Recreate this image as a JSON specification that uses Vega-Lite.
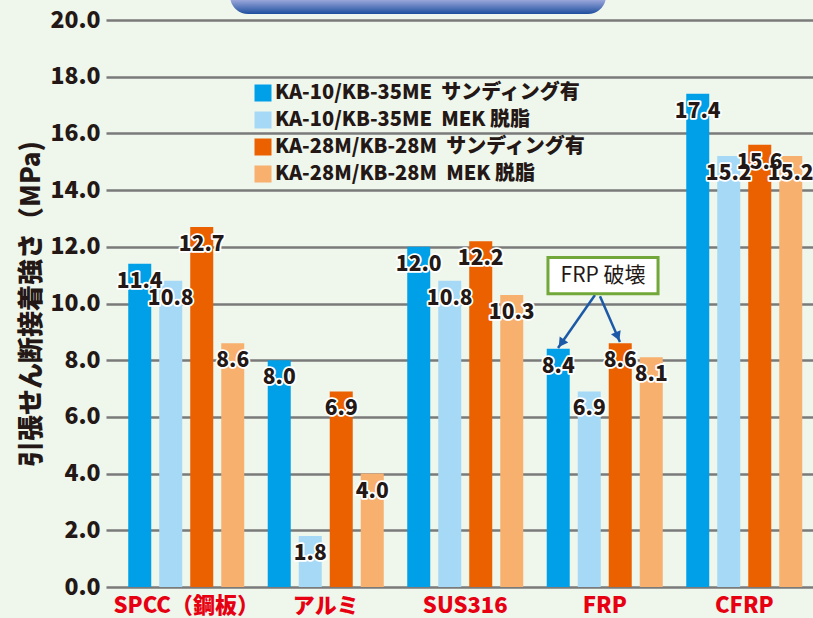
{
  "$schema": "https://vega.github.io/schema/vega-lite/v6.json",
  "autosize": {"type": "none"},
  "width": 708,
  "height": 567,
  "padding": {"left": 106, "top": 20, "right": 0, "bottom": 31},
  "background": "#eff6ec",
  "config": {"view": {"stroke": null}, "font": "Noto Sans CJK JP"},
  "datasets": {
    "bars": [
      {"material": "SPCC（鋼板）", "series": "KA-10/KB-35ME\u00a0\u00a0サンディング有", "value": 11.4},
      {"material": "SPCC（鋼板）", "series": "KA-10/KB-35ME\u00a0\u00a0MEK 脱脂", "value": 10.8},
      {"material": "SPCC（鋼板）", "series": "KA-28M/KB-28M\u00a0\u00a0サンディング有", "value": 12.7},
      {"material": "SPCC（鋼板）", "series": "KA-28M/KB-28M\u00a0\u00a0MEK 脱脂", "value": 8.6},
      {"material": "アルミ", "series": "KA-10/KB-35ME\u00a0\u00a0サンディング有", "value": 8.0},
      {"material": "アルミ", "series": "KA-10/KB-35ME\u00a0\u00a0MEK 脱脂", "value": 1.8},
      {"material": "アルミ", "series": "KA-28M/KB-28M\u00a0\u00a0サンディング有", "value": 6.9},
      {"material": "アルミ", "series": "KA-28M/KB-28M\u00a0\u00a0MEK 脱脂", "value": 4.0},
      {"material": "SUS316", "series": "KA-10/KB-35ME\u00a0\u00a0サンディング有", "value": 12.0},
      {"material": "SUS316", "series": "KA-10/KB-35ME\u00a0\u00a0MEK 脱脂", "value": 10.8},
      {"material": "SUS316", "series": "KA-28M/KB-28M\u00a0\u00a0サンディング有", "value": 12.2},
      {"material": "SUS316", "series": "KA-28M/KB-28M\u00a0\u00a0MEK 脱脂", "value": 10.3},
      {"material": "FRP", "series": "KA-10/KB-35ME\u00a0\u00a0サンディング有", "value": 8.4},
      {"material": "FRP", "series": "KA-10/KB-35ME\u00a0\u00a0MEK 脱脂", "value": 6.9},
      {"material": "FRP", "series": "KA-28M/KB-28M\u00a0\u00a0サンディング有", "value": 8.6},
      {"material": "FRP", "series": "KA-28M/KB-28M\u00a0\u00a0MEK 脱脂", "value": 8.1},
      {"material": "CFRP", "series": "KA-10/KB-35ME\u00a0\u00a0サンディング有", "value": 17.4},
      {"material": "CFRP", "series": "KA-10/KB-35ME\u00a0\u00a0MEK 脱脂", "value": 15.2},
      {"material": "CFRP", "series": "KA-28M/KB-28M\u00a0\u00a0サンディング有", "value": 15.6},
      {"material": "CFRP", "series": "KA-28M/KB-28M\u00a0\u00a0MEK 脱脂", "value": 15.2}
    ],
    "box": [{"x1": 3.093, "x2": 3.882, "y1": 10.34, "y2": 11.62, "xc": 3.488, "yc": 10.97, "label": "FRP 破壊"}],
    "arrows": [
      {"id": "a", "xs": 3.43, "ys": 10.3, "xe": 3.165, "ye": 8.43, "xh": 3.189, "yh": 8.6},
      {"id": "b", "xs": 3.466, "ys": 10.26, "xe": 3.609, "ye": 8.64, "xh": 3.592, "yh": 8.84}
    ],
    "banner": [{"x1": 0.814, "x2": 3.509, "y1": 20.21, "y2": 21.6}]
  },
  "resolve": {"scale": {"x": "independent"}},
  "layer": [
    {
      "data": {"name": "bars"},
      "encoding": {
        "x": {
          "field": "material", "type": "nominal",
          "sort": ["SPCC（鋼板）", "アルミ", "SUS316", "FRP", "CFRP"],
          "scale": {"paddingInner": 0, "paddingOuter": 0.0376, "align": 1},
          "axis": {"title": null, "labelAngle": 0, "labelColor": "#e60012", "labelFontSize": 22, "labelFontWeight": 900, "labelPadding": 8, "ticks": false, "domain": false}
        },
        "xOffset": {
          "field": "series", "type": "nominal",
          "sort": ["KA-10/KB-35ME\u00a0\u00a0サンディング有", "KA-10/KB-35ME\u00a0\u00a0MEK 脱脂", "KA-28M/KB-28M\u00a0\u00a0サンディング有", "KA-28M/KB-28M\u00a0\u00a0MEK 脱脂"],
          "scale": {"paddingInner": 0.258, "paddingOuter": 0.379}
        },
        "y": {
          "field": "value", "type": "quantitative",
          "scale": {"domain": [0, 20], "nice": false},
          "axis": {
            "title": "引張せん断接着強さ（MPa)",
            "values": [0, 2, 4, 6, 8, 10, 12, 14, 16, 18, 20],
            "format": ".1f",
            "labelFontSize": 23, "labelFontWeight": 900, "labelColor": "#231815", "labelPadding": 6,
            "ticks": false, "domain": false,
            "gridColor": "#7a7a7a", "gridWidth": 2.5, "gridOpacity": 1,
            "titleFontSize": 26, "titleFontWeight": 900, "titleColor": "#231815", "titlePadding": 5
          }
        }
      },
      "layer": [
        {
          "mark": {"type": "bar"},
          "encoding": {
            "color": {
              "field": "series", "type": "nominal",
              "sort": ["KA-10/KB-35ME\u00a0\u00a0サンディング有", "KA-10/KB-35ME\u00a0\u00a0MEK 脱脂", "KA-28M/KB-28M\u00a0\u00a0サンディング有", "KA-28M/KB-28M\u00a0\u00a0MEK 脱脂"],
              "scale": {"range": ["#00a0e9", "#a6d9f6", "#eb6100", "#f7b06e"]},
              "legend": {
                "orient": "none", "legendX": 147, "legendY": 63, "title": null,
                "symbolType": "square", "symbolSize": 289, "symbolStrokeWidth": 0, "symbolOpacity": 1,
                "labelFontSize": 20, "labelFontWeight": 900, "labelColor": "#231815",
                "rowPadding": 7, "labelOffset": 2, "padding": 0, "labelLimit": 400
              }
            }
          }
        },
        {
          "mark": {"type": "text", "baseline": "middle", "dy": 18, "fontSize": 21, "fontWeight": 900, "stroke": "white", "strokeWidth": 3.5, "strokeJoin": "round", "fill": "white"},
          "encoding": {"text": {"field": "value", "type": "quantitative", "format": ".1f"}}
        },
        {
          "mark": {"type": "text", "baseline": "middle", "dy": 18, "fontSize": 21, "fontWeight": 900, "fill": "#231815"},
          "encoding": {"text": {"field": "value", "type": "quantitative", "format": ".1f"}}
        }
      ]
    },
    {
      "layer": [
        {
          "data": {"name": "banner"},
          "mark": {
            "type": "rect", "cornerRadius": 18,
            "fill": {"gradient": "linear", "x1": 0, "y1": 0, "x2": 0, "y2": 1,
              "stops": [{"offset": 0, "color": "#cdd3f2"}, {"offset": 0.62, "color": "#a2acdf"}, {"offset": 1, "color": "#1d4f9d"}]}
          },
          "encoding": {
            "x": {"field": "x1", "type": "quantitative", "scale": {"domain": [-0.0753, 5.0], "nice": false, "zero": false}, "axis": null},
            "x2": {"field": "x2"},
            "y": {"field": "y1", "type": "quantitative", "scale": {"domain": [0, 20], "nice": false}},
            "y2": {"field": "y2"}
          }
        },
        {
          "data": {"name": "arrows"},
          "mark": {"type": "rule", "color": "#1c5aa8", "strokeWidth": 2.5},
          "encoding": {
            "x": {"field": "xs", "type": "quantitative", "scale": {"domain": [-0.0753, 5.0], "nice": false, "zero": false}, "axis": null},
            "x2": {"field": "xe"},
            "y": {"field": "ys", "type": "quantitative", "scale": {"domain": [0, 20], "nice": false}},
            "y2": {"field": "ye"}
          }
        },
        {
          "data": {"name": "arrows"},
          "transform": [{"filter": "datum.id === 'a'"}],
          "mark": {"type": "point", "shape": "triangle-up", "filled": true, "color": "#1c5aa8", "opacity": 1, "size": 110, "angle": 215},
          "encoding": {
            "x": {"field": "xh", "type": "quantitative", "scale": {"domain": [-0.0753, 5.0], "nice": false, "zero": false}, "axis": null},
            "y": {"field": "yh", "type": "quantitative", "scale": {"domain": [0, 20], "nice": false}}
          }
        },
        {
          "data": {"name": "arrows"},
          "transform": [{"filter": "datum.id === 'b'"}],
          "mark": {"type": "point", "shape": "triangle-up", "filled": true, "color": "#1c5aa8", "opacity": 1, "size": 110, "angle": 157},
          "encoding": {
            "x": {"field": "xh", "type": "quantitative", "scale": {"domain": [-0.0753, 5.0], "nice": false, "zero": false}, "axis": null},
            "y": {"field": "yh", "type": "quantitative", "scale": {"domain": [0, 20], "nice": false}}
          }
        },
        {
          "data": {"name": "box"},
          "mark": {"type": "rect", "fill": "white", "stroke": "#72a83a", "strokeWidth": 3},
          "encoding": {
            "x": {"field": "x1", "type": "quantitative", "scale": {"domain": [-0.0753, 5.0], "nice": false, "zero": false}, "axis": null},
            "x2": {"field": "x2"},
            "y": {"field": "y1", "type": "quantitative", "scale": {"domain": [0, 20], "nice": false}},
            "y2": {"field": "y2"}
          }
        },
        {
          "data": {"name": "box"},
          "mark": {"type": "text", "fontSize": 21, "fill": "#231815", "baseline": "middle", "align": "center"},
          "encoding": {
            "x": {"field": "xc", "type": "quantitative", "scale": {"domain": [-0.0753, 5.0], "nice": false, "zero": false}, "axis": null},
            "y": {"field": "yc", "type": "quantitative", "scale": {"domain": [0, 20], "nice": false}},
            "text": {"field": "label"}
          }
        }
      ]
    }
  ]
}
